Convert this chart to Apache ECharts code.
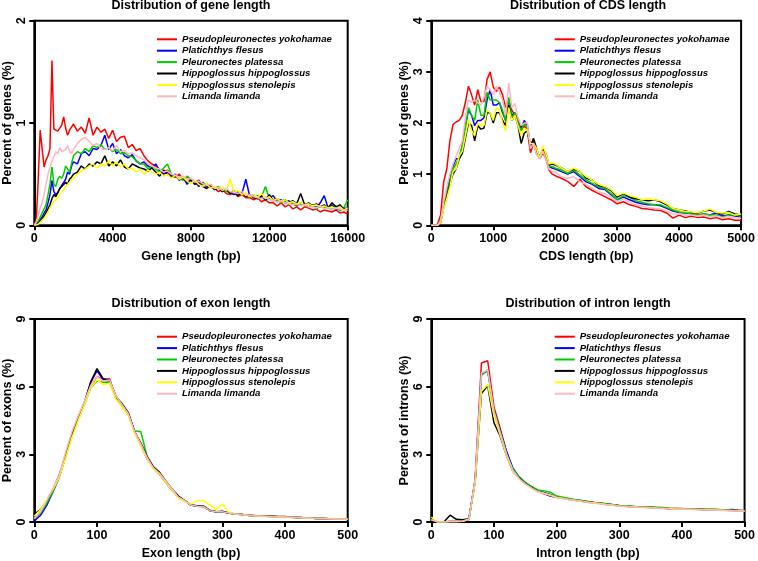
<!DOCTYPE html>
<html>
<head>
<meta charset="utf-8">
<script src="https://cdn.jsdelivr.net/npm/echarts@6/dist/echarts.min.js"></script>
<style>
  html, body { margin: 0; padding: 0; background: #fff; }
  #chart { width: 758px; height: 561px; }
</style>
</head>
<body>
<div id="chart"></div>
<script>
// species shown in every panel, in drawing order
const species = [
  "Pseudopleuronectes yokohamae",
  "Platichthys flesus",
  "Pleuronectes platessa",
  "Hippoglossus hippoglossus",
  "Hippoglossus stenolepis",
  "Limanda limanda"
];
const colors = ["#FF0000", "#0000FF", "#00CD00", "#000000", "#FFFF00", "#FFB6C1"];

// ---- gene length (bp) ----
const geneLen = [0,100,200,300,400,500,600,700,800,900,1000,1100,1200,1300,1400,1500,1600,1700,1800,1900,2000,
  2200,2400,2600,2800,3000,3200,3400,3600,3800,4000,4200,4400,4600,4800,5000,5200,5400,5600,5800,6000,
  6200,6400,6600,6800,7000,7200,7400,7600,7800,8000,8200,8400,8600,8800,9000,9200,9400,9600,9800,10000,
  10200,10400,10600,10800,11000,11200,11400,11600,11800,12000,12200,12400,12600,12800,13000,13200,13400,13600,13800,14000,
  14200,14400,14600,14800,15000,15200,15400,15600,15800,16000];
const geneYokohamae = [0,0.05,0.45,0.93,0.75,0.57,0.64,0.68,0.75,1.61,0.94,0.93,0.92,0.93,0.98,1.06,0.95,0.88,0.93,0.96,0.99,
  0.92,0.96,0.9,1.05,0.88,0.96,0.91,0.94,0.85,0.93,0.82,0.86,0.87,0.76,0.79,0.73,0.75,0.68,0.63,0.6,
  0.58,0.55,0.52,0.54,0.5,0.47,0.5,0.45,0.47,0.44,0.42,0.44,0.4,0.38,0.37,0.36,0.33,0.35,0.31,0.3,
  0.32,0.28,0.3,0.27,0.27,0.25,0.27,0.23,0.25,0.22,0.22,0.19,0.22,0.18,0.2,0.16,0.18,0.15,0.18,0.17,
  0.15,0.16,0.13,0.15,0.14,0.13,0.15,0.12,0.13,0.11];
const geneFlesus = [0,0.01,0.03,0.06,0.08,0.12,0.15,0.22,0.3,0.44,0.33,0.3,0.32,0.36,0.35,0.42,0.45,0.52,0.5,0.58,0.62,
  0.6,0.7,0.72,0.68,0.75,0.74,0.78,0.88,0.74,0.8,0.7,0.74,0.68,0.66,0.69,0.63,0.6,0.62,0.58,0.56,
  0.6,0.53,0.5,0.52,0.48,0.5,0.44,0.47,0.4,0.45,0.43,0.38,0.42,0.38,0.4,0.35,0.37,0.33,0.35,0.32,
  0.3,0.33,0.31,0.45,0.28,0.3,0.26,0.28,0.25,0.27,0.29,0.23,0.25,0.22,0.24,0.21,0.19,0.22,0.2,0.18,
  0.2,0.17,0.22,0.29,0.17,0.2,0.15,0.18,0.17,0.16];
const genePlatessa = [0,0.01,0.04,0.08,0.12,0.16,0.2,0.3,0.4,0.57,0.4,0.38,0.45,0.48,0.46,0.5,0.58,0.55,0.52,0.6,0.68,
  0.72,0.7,0.75,0.72,0.78,0.76,0.79,0.74,0.76,0.72,0.74,0.7,0.71,0.68,0.67,0.63,0.6,0.6,0.55,0.58,
  0.55,0.52,0.56,0.6,0.5,0.48,0.47,0.44,0.48,0.45,0.41,0.43,0.4,0.41,0.37,0.36,0.38,0.34,0.33,0.32,
  0.34,0.3,0.31,0.28,0.3,0.27,0.29,0.28,0.38,0.26,0.24,0.25,0.22,0.24,0.2,0.22,0.19,0.21,0.2,0.18,
  0.2,0.16,0.19,0.17,0.18,0.15,0.19,0.14,0.17,0.25];
const geneHippo = [0,0,0.02,0.04,0.06,0.09,0.12,0.16,0.2,0.26,0.3,0.28,0.32,0.36,0.35,0.4,0.42,0.4,0.45,0.47,0.5,
  0.52,0.58,0.55,0.6,0.58,0.62,0.6,0.68,0.58,0.62,0.58,0.64,0.57,0.55,0.6,0.58,0.56,0.55,0.53,0.56,
  0.52,0.48,0.54,0.5,0.47,0.48,0.45,0.46,0.42,0.44,0.4,0.42,0.38,0.36,0.39,0.35,0.36,0.33,0.35,0.31,
  0.33,0.29,0.32,0.28,0.3,0.27,0.26,0.29,0.25,0.3,0.24,0.26,0.23,0.25,0.22,0.24,0.21,0.31,0.2,0.22,
  0.19,0.21,0.18,0.2,0.17,0.22,0.18,0.2,0.16,0.17];
const geneStenolepis = [0,0,0.01,0.03,0.05,0.07,0.1,0.13,0.17,0.2,0.23,0.25,0.28,0.3,0.33,0.35,0.38,0.37,0.42,0.44,0.46,
  0.5,0.53,0.55,0.58,0.6,0.56,0.6,0.58,0.63,0.58,0.62,0.57,0.6,0.55,0.56,0.52,0.55,0.5,0.54,0.52,
  0.5,0.52,0.48,0.5,0.46,0.49,0.45,0.47,0.43,0.41,0.44,0.4,0.38,0.41,0.36,0.38,0.35,0.37,0.34,0.45,
  0.32,0.34,0.3,0.32,0.28,0.3,0.27,0.31,0.26,0.28,0.24,0.26,0.23,0.25,0.22,0.23,0.21,0.22,0.2,0.21,
  0.19,0.2,0.18,0.19,0.17,0.18,0.16,0.18,0.15,0.17];
const geneLimanda = [0,0.03,0.1,0.17,0.22,0.3,0.4,0.5,0.56,0.63,0.67,0.72,0.7,0.76,0.72,0.71,0.74,0.78,0.72,0.7,0.74,
  0.8,0.84,0.86,0.82,0.78,0.8,0.75,0.74,0.76,0.73,0.78,0.72,0.73,0.7,0.71,0.68,0.66,0.64,0.6,0.58,
  0.56,0.55,0.52,0.53,0.5,0.49,0.47,0.48,0.45,0.46,0.42,0.43,0.41,0.39,0.4,0.36,0.37,0.34,0.36,0.33,
  0.32,0.31,0.33,0.29,0.3,0.28,0.27,0.26,0.28,0.25,0.24,0.23,0.24,0.22,0.21,0.2,0.21,0.19,0.2,0.18,
  0.18,0.17,0.19,0.16,0.17,0.15,0.17,0.16,0.15,0.15];

// ---- CDS length (bp) ----
const cdsLen = [0,50,100,150,200,250,300,350,400,450,500,550,600,650,700,750,800,850,900,950,
  1000,1050,1100,1150,1200,1250,1300,1350,1400,1450,1500,1550,1600,1650,1700,1750,1800,1850,1900,1950,2000,
  2100,2200,2300,2400,2500,2600,2700,2800,2900,3000,3100,3200,3300,3400,3500,3600,3700,3800,3900,4000,
  4100,4200,4300,4400,4500,4600,4700,4800,4900,5000];
const cdsYokohamae = [0,0,0.02,0.2,0.85,1.1,1.65,1.97,2.02,2.05,2.15,2.4,2.72,2.55,2.35,2.65,2.42,2.42,2.85,3.0,
  2.7,2.62,2.7,2.55,2.3,2.45,2.25,2.15,2.1,1.85,1.95,1.85,1.42,1.6,1.45,1.3,1.42,1.3,1.08,1.0,0.97,
  0.92,0.86,0.76,0.9,0.75,0.68,0.62,0.56,0.5,0.42,0.46,0.4,0.37,0.33,0.32,0.3,0.29,0.24,0.14,0.2,
  0.15,0.18,0.15,0.16,0.13,0.15,0.11,0.13,0.1,0.1];
const cdsFlesus = [0,0,0,0.1,0.4,0.65,0.9,1.15,1.3,1.3,1.55,1.95,2.25,2.15,1.95,2.05,2.05,2.1,2.45,2.65,
  2.35,2.35,2.4,2.2,2.05,2.45,2.15,2.2,2.05,1.9,2.05,1.95,1.55,1.65,1.4,1.35,1.45,1.35,1.15,1.12,1.1,
  1.05,1.0,1.05,0.95,0.85,0.8,0.72,0.7,0.6,0.5,0.55,0.5,0.45,0.42,0.4,0.4,0.38,0.33,0.28,0.25,
  0.24,0.22,0.2,0.22,0.2,0.24,0.18,0.2,0.18,0.16];
const cdsPlatessa = [0,0,0,0.08,0.38,0.62,0.85,1.1,1.2,1.35,1.55,1.9,2.3,2.15,2.05,2.45,2.15,2.15,2.6,2.45,
  2.45,2.45,2.4,2.25,2.05,2.5,2.1,2.2,2.0,1.85,2.0,1.9,1.55,1.6,1.4,1.35,1.5,1.35,1.15,1.15,1.12,
  1.08,1.02,1.08,0.98,0.88,0.82,0.75,0.72,0.62,0.5,0.58,0.55,0.48,0.45,0.42,0.4,0.4,0.35,0.3,0.26,
  0.25,0.22,0.2,0.22,0.2,0.2,0.16,0.2,0.2,0.18];
const cdsHippo = [0,0,0,0.05,0.35,0.55,0.8,1.0,1.1,1.3,1.4,1.7,2.0,1.95,1.65,1.95,1.88,1.9,2.2,2.2,
  2.0,2.2,2.2,2.05,1.95,2.35,2.05,2.15,1.95,1.6,1.8,1.85,1.55,1.7,1.5,1.3,1.5,1.4,1.18,1.2,1.18,
  1.12,1.05,1.1,1.05,0.92,0.88,0.78,0.75,0.68,0.55,0.62,0.55,0.52,0.5,0.48,0.5,0.46,0.4,0.33,0.3,
  0.28,0.25,0.24,0.28,0.3,0.25,0.22,0.27,0.22,0.2];
const cdsStenolepis = [0,0,0,0.05,0.32,0.52,0.75,1.05,1.1,1.35,1.45,1.75,2.05,1.85,1.75,2.0,1.95,1.95,2.25,2.2,
  2.05,2.3,2.25,2.0,1.85,2.3,2.05,2.15,1.95,1.75,1.9,1.85,1.6,1.6,1.5,1.3,1.55,1.4,1.2,1.22,1.2,
  1.12,1.05,1.12,1.05,0.95,0.88,0.8,0.76,0.7,0.58,0.63,0.58,0.55,0.5,0.52,0.5,0.48,0.42,0.33,0.3,
  0.27,0.26,0.25,0.28,0.32,0.25,0.24,0.25,0.2,0.22];
const cdsLimanda = [0,0,0,0.1,0.45,0.75,1.0,1.2,1.35,1.5,1.65,2.1,2.45,2.4,2.45,2.4,2.35,2.5,2.72,2.65,
  2.55,2.72,2.6,2.45,2.15,2.78,2.3,2.38,2.1,1.95,2.0,2.0,1.5,1.6,1.38,1.3,1.45,1.3,1.1,1.05,1.05,
  0.95,0.92,0.95,0.85,0.8,0.72,0.65,0.62,0.55,0.45,0.52,0.45,0.4,0.38,0.35,0.33,0.32,0.28,0.22,0.22,
  0.2,0.2,0.18,0.2,0.17,0.18,0.15,0.17,0.15,0.14];

// ---- exon / intron length (bp), 10 bp bins ----
const binLen = [0,10,20,30,40,50,60,70,80,90,100,110,120,130,140,150,160,170,180,190,200,
  210,220,230,240,250,260,270,280,290,300,310,320,330,340,350,360,370,380,390,400,
  410,420,430,440,450,460,470,480,490,500];
const exonYokohamae = [0.15,0.4,0.9,1.4,2.05,2.95,3.9,4.65,5.3,6.0,6.45,6.3,6.35,5.55,5.2,4.8,4.0,3.45,2.85,2.4,
  2.15,1.8,1.45,1.1,0.95,0.75,0.7,0.7,0.5,0.45,0.45,0.4,0.35,0.33,0.3,0.28,0.27,0.26,0.24,0.23,
  0.22,0.21,0.2,0.19,0.18,0.16,0.15,0.14,0.14,0.13,0.13];
const exonFlesus = [0.05,0.3,0.75,1.35,2.0,2.9,3.85,4.6,5.3,6.2,6.7,6.3,6.25,5.6,5.15,4.8,4.0,3.4,2.8,2.4,
  2.1,1.75,1.4,1.1,0.95,0.75,0.72,0.68,0.52,0.45,0.45,0.4,0.35,0.33,0.3,0.28,0.27,0.25,0.24,0.23,
  0.22,0.21,0.2,0.19,0.18,0.16,0.15,0.14,0.13,0.13,0.12];
const exonPlatessa = [0.15,0.4,0.85,1.35,2.0,2.9,3.8,4.55,5.2,5.95,6.25,6.2,6.2,5.5,5.15,4.75,4.05,4.0,2.9,2.4,
  2.1,1.75,1.4,1.1,0.95,0.75,0.7,0.68,0.52,0.45,0.45,0.4,0.35,0.33,0.3,0.28,0.27,0.25,0.24,0.23,
  0.22,0.21,0.2,0.19,0.18,0.16,0.15,0.14,0.14,0.13,0.12];
const exonHippo = [0.35,0.55,0.95,1.45,2.1,2.95,3.85,4.6,5.3,6.2,6.8,6.35,6.3,5.55,5.25,4.85,4.0,3.5,2.9,2.45,
  2.2,1.8,1.45,1.15,0.95,0.75,0.7,0.7,0.5,0.45,0.48,0.4,0.36,0.34,0.3,0.29,0.27,0.26,0.25,0.24,
  0.24,0.21,0.2,0.19,0.18,0.16,0.15,0.14,0.14,0.13,0.13];
const exonStenolepis = [0.25,0.55,1.0,1.45,2.0,2.85,3.75,4.5,5.2,5.95,6.3,6.1,6.15,5.45,5.1,4.7,3.95,3.35,2.8,2.35,
  2.1,1.75,1.4,1.05,0.9,0.8,0.95,0.95,0.75,0.55,0.8,0.45,0.35,0.33,0.3,0.28,0.26,0.24,0.23,0.22,
  0.22,0.2,0.2,0.18,0.17,0.16,0.15,0.14,0.13,0.13,0.12];
const exonLimanda = [0.15,0.45,0.95,1.5,2.1,3.1,4.0,4.7,5.35,6.05,6.45,6.25,6.3,5.6,5.2,4.8,4.0,3.45,2.85,2.4,
  2.15,1.8,1.45,1.1,0.95,0.75,0.7,0.68,0.5,0.45,0.45,0.4,0.35,0.33,0.3,0.28,0.27,0.26,0.24,0.23,
  0.22,0.21,0.2,0.19,0.18,0.16,0.15,0.14,0.14,0.13,0.13];

const intronYokohamae = [0.1,0,0,0.02,0.02,0.03,0.12,1.9,7.05,7.15,5.1,4.15,3.1,2.35,1.95,1.72,1.55,1.38,1.3,1.2,
  1.12,1.07,1.02,0.98,0.94,0.9,0.86,0.83,0.8,0.76,0.72,0.71,0.69,0.67,0.66,0.65,0.63,0.62,0.6,0.6,
  0.6,0.58,0.57,0.56,0.55,0.55,0.54,0.53,0.52,0.51,0.5];
const intronFlesus = [0.1,0,0,0.02,0.02,0.03,0.12,1.85,6.55,6.7,4.95,4.05,3.15,2.4,2.0,1.75,1.55,1.4,1.3,1.22,
  1.12,1.08,1.02,0.98,0.94,0.9,0.86,0.83,0.8,0.76,0.73,0.71,0.69,0.67,0.66,0.65,0.63,0.62,0.6,0.59,
  0.58,0.58,0.57,0.56,0.55,0.55,0.54,0.53,0.55,0.52,0.5];
const intronPlatessa = [0.1,0,0,0.02,0.02,0.03,0.12,1.85,6.5,6.75,4.95,4.0,3.05,2.35,2.0,1.75,1.58,1.42,1.38,1.32,
  1.15,1.1,1.04,0.99,0.95,0.91,0.87,0.84,0.81,0.77,0.73,0.72,0.7,0.68,0.67,0.66,0.65,0.64,0.61,0.6,
  0.59,0.58,0.57,0.57,0.56,0.56,0.55,0.53,0.52,0.51,0.5];
const intronHippo = [0.05,0,0,0.3,0.12,0.1,0.15,1.8,5.7,6.05,4.4,3.8,2.95,2.25,1.95,1.7,1.52,1.36,1.25,1.15,
  1.1,1.05,1.0,0.96,0.92,0.88,0.85,0.82,0.78,0.75,0.71,0.7,0.68,0.66,0.65,0.64,0.62,0.61,0.59,0.58,
  0.57,0.57,0.56,0.55,0.54,0.54,0.53,0.52,0.51,0.5,0.5];
const intronStenolepis = [0.22,0,0,0.02,0.02,0.03,0.12,1.75,5.8,6.1,4.7,3.85,2.95,2.25,1.92,1.68,1.5,1.35,1.28,1.2,
  1.1,1.05,1.0,0.96,0.92,0.88,0.85,0.82,0.78,0.75,0.71,0.7,0.68,0.66,0.65,0.64,0.62,0.61,0.6,0.58,
  0.58,0.57,0.56,0.55,0.55,0.54,0.53,0.52,0.51,0.5,0.49];
const intronLimanda = [0.1,0,0,0.02,0.02,0.03,0.12,1.9,6.6,6.75,4.9,3.95,3.0,2.3,1.92,1.68,1.5,1.33,1.25,1.18,
  1.08,1.04,0.99,0.95,0.91,0.87,0.83,0.8,0.77,0.74,0.7,0.69,0.67,0.65,0.64,0.63,0.61,0.6,0.58,0.57,
  0.56,0.56,0.55,0.54,0.53,0.53,0.52,0.51,0.5,0.49,0.48];

const FONT = "Liberation Sans, Arial, sans-serif";

// panel settings (layout only)
const panels = [
  { x: geneLen, ys: [geneYokohamae, geneFlesus, genePlatessa, geneHippo, geneStenolepis, geneLimanda],
    title: "Distribution of gene length", xName: "Gene length (bp)", yName: "Percent of genes (%)",
    xMax: 16000, xStep: 4000, yMax: 2, yStep: 1,
    grid: { left: 34.3, top: 20.7, width: 313.4, height: 204.6 }, legendLeft: 157, legendTop: 33.6 },
  { x: cdsLen, ys: [cdsYokohamae, cdsFlesus, cdsPlatessa, cdsHippo, cdsStenolepis, cdsLimanda],
    title: "Distribution of CDS length", xName: "CDS length (bp)", yName: "Percent of genes (%)",
    xMax: 5000, xStep: 1000, yMax: 4, yStep: 1,
    grid: { left: 431.3, top: 20.7, width: 313.4, height: 204.6 }, legendLeft: 554.7, legendTop: 33.6 },
  { x: binLen, ys: [exonYokohamae, exonFlesus, exonPlatessa, exonHippo, exonStenolepis, exonLimanda],
    title: "Distribution of exon length", xName: "Exon length (bp)", yName: "Percent of exons (%)",
    xMax: 500, xStep: 100, yMax: 9, yStep: 3,
    grid: { left: 34.3, top: 319, width: 313.4, height: 203.3 }, legendLeft: 157, legendTop: 331 },
  { x: binLen, ys: [intronYokohamae, intronFlesus, intronPlatessa, intronHippo, intronStenolepis, intronLimanda],
    title: "Distribution of intron length", xName: "Intron length (bp)", yName: "Percent of introns (%)",
    xMax: 500, xStep: 100, yMax: 9, yStep: 3,
    grid: { left: 431.3, top: 319, width: 313.4, height: 203.3 }, legendLeft: 554.7, legendTop: 331 }
];

const boldText = { color: "#000", fontFamily: FONT, fontWeight: "bold", fontSize: 12.5 };
const blackLine = { color: "#000", width: 2 };

const grid = [], xAxis = [], yAxis = [], series = [], legend = [], graphic = [];
panels.forEach((p, i) => {
  grid.push(Object.assign({ show: true, borderColor: "#000", borderWidth: 2, containLabel: false }, p.grid));
  xAxis.push({
    type: "value", gridIndex: i, min: 0, max: p.xMax, interval: p.xStep,
    name: p.xName, nameLocation: "middle", nameGap: 25, nameTextStyle: boldText,
    axisLine: { show: true, onZero: false, lineStyle: blackLine },
    axisTick: { show: true, length: 5, lineStyle: blackLine },
    axisLabel: Object.assign({ margin: 7, showMinLabel: true, showMaxLabel: true,
      formatter: (v) => String(v) }, boldText),
    splitLine: { show: false }
  });
  yAxis.push({
    type: "value", gridIndex: i, min: 0, max: p.yMax, interval: p.yStep,
    name: p.yName, nameLocation: "middle", nameGap: 19, nameTextStyle: boldText,
    axisLine: { show: true, onZero: false, lineStyle: blackLine },
    axisTick: { show: true, length: 5, lineStyle: blackLine },
    axisLabel: Object.assign({ margin: 6, rotate: 90, formatter: (v) => String(v) }, boldText),
    splitLine: { show: false }
  });
  p.ys.forEach((ys, s) => {
    series.push({
      type: "line", name: species[s], xAxisIndex: i, yAxisIndex: i,
      data: p.x.map((x, k) => [x, ys[k]]),
      symbol: "none", color: colors[s], z: 2 + s,
      lineStyle: { color: colors[s], width: 1.5 },
      silent: true, animation: false
    });
  });
  legend.push({
    data: species, orient: "vertical", left: p.legendLeft, top: p.legendTop,
    padding: 0, itemGap: 0, itemWidth: 20, itemHeight: 2, icon: "rect", selectedMode: false,
    textStyle: { color: "#000", fontFamily: FONT, fontSize: 9.6, fontWeight: "bold", fontStyle: "italic", lineHeight: 11.4 }
  });
  graphic.push({
    type: "text",
    x: p.grid.left + p.grid.width / 2,
    y: p.grid.top - 15,
    style: {
      text: p.title, fill: "#000",
      font: "bold 12.5px " + FONT,
      align: "center", verticalAlign: "middle",
      textAlign: "center", textVerticalAlign: "middle"
    }
  });
});

const chart = echarts.init(document.getElementById("chart"), null, { renderer: "canvas" });
chart.setOption({
  backgroundColor: "#fff",
  animation: false,
  grid, xAxis, yAxis, series, legend, graphic
});
</script>
</body>
</html>
